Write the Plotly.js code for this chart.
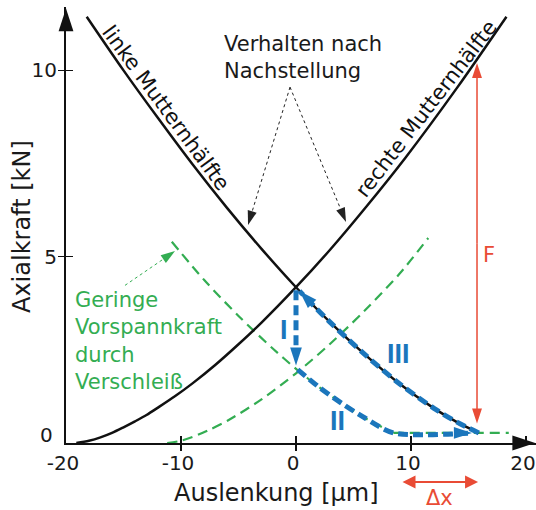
<!DOCTYPE html>
<html>
<head>
<meta charset="utf-8">
<script src="https://cdn.plot.ly/plotly-3.0.1.min.js"></script>
<style>html,body{margin:0;padding:0;background:#fff;}</style>
</head>
<body>
<div id="chart" style="width:536px;height:510px;"></div>
<script>
// ---- data ----
const xTicks = [-20, -10, 0, 10, 20];
const xTickText = ['-20', '-10', '0', '10', '20'];
const yTicks = [0, 5, 10];
const yTickText = ['0', '5', '10'];

// right nut half (rechte Mutternhälfte)
const rightX = [-19.1, -18, -17, -16, -15, -14, -13, -12, -10.5, -9, -7, -5, -3, 0, 3, 6, 9.5, 14, 18.3];
const rightY = [0, 0.06, 0.15, 0.27, 0.42, 0.58, 0.75, 0.95, 1.26, 1.6, 2.1, 2.65, 3.23, 4.18, 5.2, 6.3, 7.65, 9.53, 11.44];
// left nut half (linke Mutternhälfte)
const leftX = [-18.2, -15, -12, -9, -6, -3, 0, 3, 6, 9, 12, 14, 15.9];
const leftY = [11.44, 10.0, 8.72, 7.48, 6.31, 5.21, 4.18, 3.23, 2.37, 1.59, 0.93, 0.56, 0.27];
// worn state (geringe Vorspannkraft)
const wornLeftX = [-10.8, -8, -5, -2, 0, 2, 4, 6, 8.5];
const wornLeftY = [5.4, 4.38, 3.41, 2.53, 1.99, 1.5, 1.06, 0.67, 0.27];
const wornFlatX = [8.5, 18.5];
const wornFlatY = [0.27, 0.27];
const wornRightX = [-11.2, -10, -9, -7.5, -6, -3, 0, 3, 6, 9, 11.5];
const wornRightY = [0, 0.06, 0.16, 0.36, 0.59, 1.17, 1.87, 2.67, 3.56, 4.54, 5.5];
// load path I, II, III
const pathIX = [0, 0];
const pathIY = [4.1, 2.08];
const pathIIX = [0.15, 2, 4, 6, 8.5, 15.3];
const pathIIY = [1.97, 1.5, 1.06, 0.67, 0.27, 0.27];
const pathIIIX = [15.9, 14, 12, 9, 6, 3, 0.3];
const pathIIIY = [0.27, 0.56, 0.93, 1.59, 2.37, 3.23, 4.08];
// force F (vertical) and displacement Δx (horizontal, below the axis)
const forceX = 15.74;
const forceY = [0.52, 10.2];
const dispX = [9.13, 15.83];
// pointer lines of the notes
const noteTail = [-0.52, 9.55];
const noteLeftTip = [-4.17, 5.85];
const noteRightTip = [4.35, 5.93];
const wornTail = [-14.87, 4.23];
const wornTip = [-10.52, 5.15];

// ---- styles ----
const BLACK = '#111111';
const GREEN = '#33ad52';
const BLUE = '#1b76bc';
const RED = '#e94b35';
const TEXT = '#1a1a1a';
const FONT = 'DejaVu Sans, Verdana, sans-serif';
const ROMAN = {size: 27, color: BLUE, family: 'Liberation Sans, Arial, sans-serif', weight: 'bold'};

function arrowTrace(xs, ys, color, width, dash, headSize, shape) {
  const sizes = xs.map((_, i) => i === xs.length - 1 ? headSize : 0);
  return {
    x: xs, y: ys, type: 'scatter', mode: 'lines+markers', hoverinfo: 'skip',
    line: {color: color, width: width, dash: dash || 'solid', shape: shape || 'linear', smoothing: 0.8},
    marker: {symbol: 'arrow', angleref: 'previous', size: sizes, color: color, opacity: 1, line: {width: 0}},
    cliponaxis: false
  };
}
function lineTrace(xs, ys, color, width, dash, shape) {
  return {
    x: xs, y: ys, type: 'scatter', mode: 'lines', hoverinfo: 'skip',
    line: {color: color, width: width, dash: dash || 'solid', shape: shape || 'linear', smoothing: 0.8},
    cliponaxis: false
  };
}

const forceMid = (forceY[0] + forceY[1]) / 2;

const traces = [
  lineTrace(wornLeftX, wornLeftY, GREEN, 2.2, '10px,6px', 'spline'),
  lineTrace(wornFlatX, wornFlatY, GREEN, 2.2, '10px,6px'),
  lineTrace(wornRightX, wornRightY, GREEN, 2.2, '10px,6px', 'spline'),
  lineTrace(rightX, rightY, BLACK, 2.5, 'solid', 'spline'),
  lineTrace(leftX, leftY, BLACK, 2.5, 'solid', 'spline'),
  arrowTrace(pathIX, pathIY, BLUE, 5, '10px,5px', 19),
  arrowTrace(pathIIX, pathIIY, BLUE, 5, '10px,5px', 19, 'spline'),
  arrowTrace(pathIIIX, pathIIIY, BLUE, 5, '10px,5px', 19, 'spline'),
  arrowTrace([forceX, forceX], [forceMid, forceY[1]], RED, 1.5, 'solid', 16),
  arrowTrace([forceX, forceX], [forceMid, forceY[0]], RED, 1.5, 'solid', 16),
  arrowTrace([noteTail[0], noteLeftTip[0]], [noteTail[1], noteLeftTip[1]], '#222', 1, 'dot', 15),
  arrowTrace([noteTail[0], noteRightTip[0]], [noteTail[1], noteRightTip[1]], '#222', 1, 'dot', 15),
  arrowTrace([wornTail[0], wornTip[0]], [wornTail[1], wornTip[1]], GREEN, 1, 'dot', 15),
  // axis arrow heads
  {x: [-20, 20.8], y: [0, 0], type: 'scatter', mode: 'markers', hoverinfo: 'skip', cliponaxis: false,
   marker: {symbol: 'arrow', angleref: 'previous', size: [0, 24], color: BLACK, opacity: 1, line: {width: 0}}},
  {x: [-20, -20], y: [0, 11.66], type: 'scatter', mode: 'markers', hoverinfo: 'skip', cliponaxis: false,
   marker: {symbol: 'arrow', angleref: 'previous', size: [0, 24], color: BLACK, opacity: 1, line: {width: 0}}},
  // carriers for the outer tick axes
  {x: [], y: [], type: 'scatter', xaxis: 'x2', yaxis: 'y'},
  {x: [], y: [], type: 'scatter', xaxis: 'x', yaxis: 'y2'}
];

const annotations = [
  {x: -6.43, y: 10.34, xref: 'x', yref: 'y', xanchor: 'left', yanchor: 'middle', align: 'left',
   text: 'Verhalten nach<br>Nachstellung', showarrow: false, font: {size: 21, color: TEXT}},
  {x: -19.4, y: 2.74, xref: 'x', yref: 'y', xanchor: 'left', yanchor: 'middle', align: 'left',
   text: 'Geringe<br>Vorspannkraft<br>durch<br>Verschleiß', showarrow: false, font: {size: 21, color: GREEN}},
  {x: -11.3, y: 9.0, xref: 'x', yref: 'y', textangle: 53.6, text: 'linke Mutternhälfte',
   showarrow: false, font: {size: 21, color: '#111'}},
  {x: 11.3, y: 8.97, xref: 'x', yref: 'y', textangle: -52.4, text: 'rechte Mutternhälfte',
   showarrow: false, font: {size: 21, color: '#111'}},
  {x: -1.04, y: 3.02, xref: 'x', yref: 'y', text: 'I', showarrow: false, font: ROMAN},
  {x: 3.65, y: 0.6, xref: 'x', yref: 'y', text: 'II', showarrow: false, font: ROMAN},
  {x: 8.87, y: 2.4, xref: 'x', yref: 'y', text: 'III', showarrow: false, font: ROMAN},
  {x: 16.8, y: 5.04, xref: 'x', yref: 'y', text: 'F', showarrow: false, font: {size: 21, color: RED}},
  // Δx double arrow below the axis
  {x: dispX[1], y: -0.0894, xref: 'x', yref: 'paper', axref: 'x', ayref: 'pixel', ax: dispX[0], ay: 0,
   text: '', showarrow: true, arrowside: 'end+start', arrowhead: 2, arrowsize: 1.3, arrowwidth: 2,
   arrowcolor: RED, standoff: 0, startstandoff: 0},
  {x: (dispX[0] + dispX[1]) / 2, y: -0.126, xref: 'x', yref: 'paper', yanchor: 'middle', text: 'Δx',
   showarrow: false, font: {size: 21, color: RED}},
  // axis titles
  {x: -1.7, y: -0.1147, xref: 'x', yref: 'paper', yanchor: 'middle', text: 'Auslenkung [µm]', showarrow: false,
   font: {size: 24, color: TEXT}},
  {x: -0.0936, y: 0.4954, xref: 'paper', yref: 'paper', xanchor: 'center', yanchor: 'middle', textangle: -90,
   text: 'Axialkraft [kN]', showarrow: false, font: {size: 24, color: TEXT}},
  // raised zero label of the force axis
  {x: -0.0234, y: 0, xref: 'paper', yref: 'paper', xanchor: 'right', yanchor: 'middle', yshift: 8,
   text: yTickText[0], showarrow: false, font: {size: 20, color: TEXT}}
];

const innerAxis = {
  showgrid: false, zeroline: false, showline: true, linewidth: 2, linecolor: BLACK,
  ticks: 'inside', ticklen: 7, tickwidth: 1.5, tickcolor: BLACK,
  tickfont: {size: 20, color: TEXT}, fixedrange: true, automargin: false
};
const outerAxis = {
  showgrid: false, zeroline: false, showline: false,
  ticks: 'outside', ticklen: 7, tickwidth: 1.5, tickcolor: BLACK,
  showticklabels: false, fixedrange: true
};

const layout = {
  width: 536, height: 510,
  margin: {l: 66, r: 0, t: 7, b: 67, pad: 0},
  paper_bgcolor: '#ffffff', plot_bgcolor: '#ffffff',
  showlegend: false,
  font: {family: FONT, size: 20, color: TEXT},
  xaxis: Object.assign({}, innerAxis, {range: [-20, 20.87], tickvals: xTicks, ticktext: xTickText,
    ticklabelshift: -3, ticklabelstandoff: 1}),
  yaxis: Object.assign({}, innerAxis, {range: [0, 11.7], tickvals: yTicks.slice(1), ticktext: yTickText.slice(1),
    ticklabelstandoff: 3}),
  xaxis2: Object.assign({}, outerAxis, {overlaying: 'x', anchor: 'y', side: 'bottom', range: [-20, 20.87],
    tickvals: xTicks.slice(1, 4)}),
  yaxis2: Object.assign({}, outerAxis, {overlaying: 'y', anchor: 'x', side: 'left', range: [0, 11.7],
    tickvals: yTicks.slice(1)}),
  annotations: annotations
};

Plotly.newPlot('chart', traces, layout, {staticPlot: true, displayModeBar: false});
</script>
</body>
</html>
